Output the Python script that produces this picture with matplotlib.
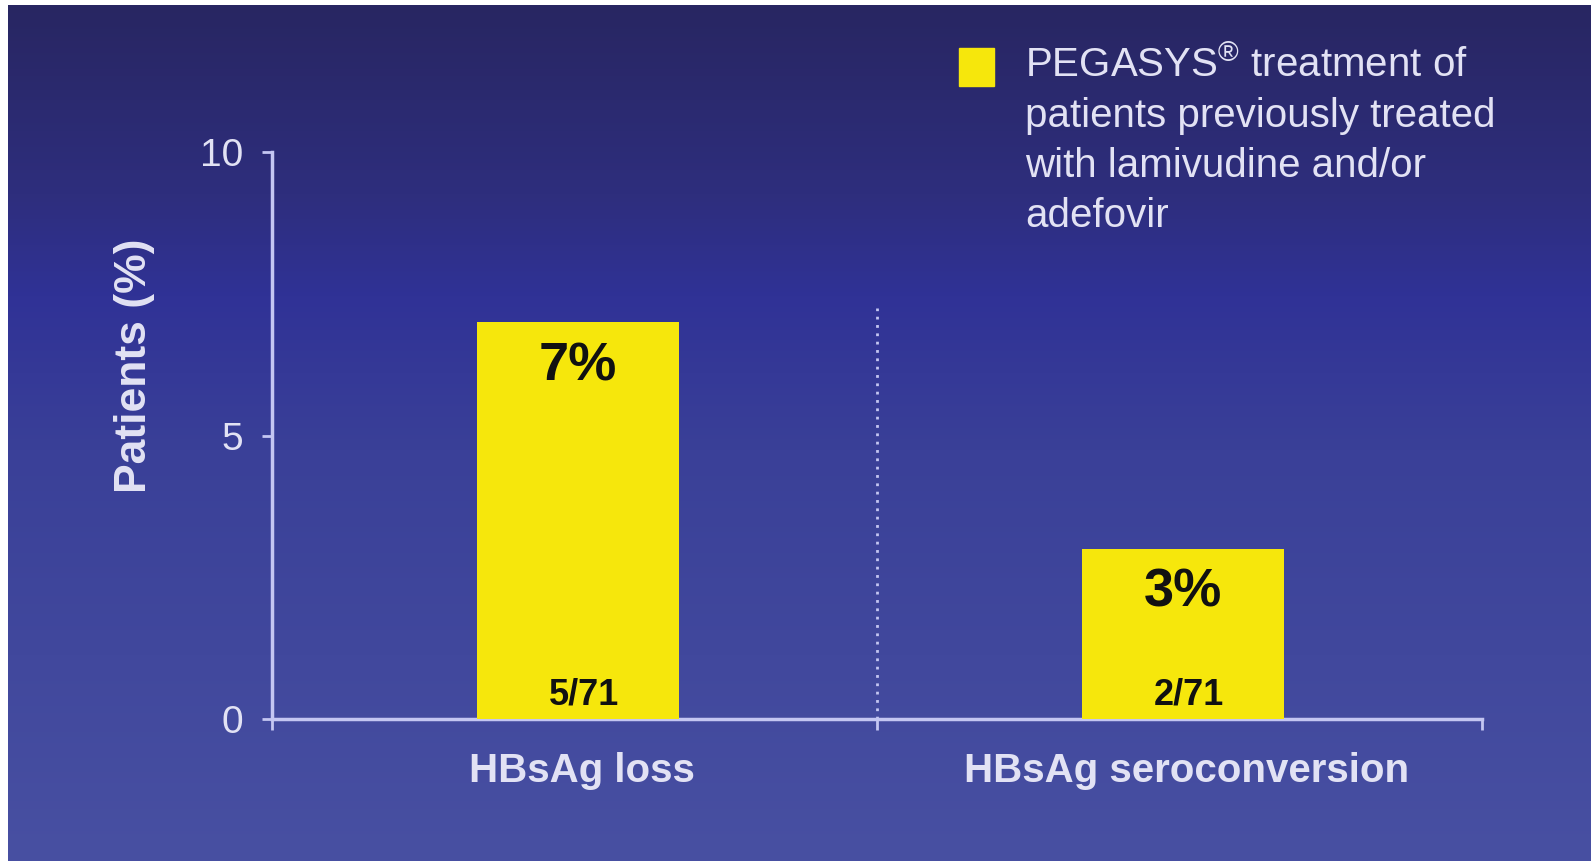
import numpy as np
import matplotlib
matplotlib.use("Agg")
import matplotlib.pyplot as plt
from matplotlib.patches import Rectangle

plt.rcParams['font.family'] = ['Liberation Sans', 'DejaVu Sans']
plt.rcParams['mathtext.fontset'] = 'custom'
plt.rcParams['mathtext.rm'] = 'Liberation Sans'
plt.rcParams['mathtext.default'] = 'regular'

categories = ["HBsAg loss", "HBsAg seroconversion"]
responders = [5, 2]
n_patients = [71, 71]
pct_labels = ["7%", "3%"]
pct_values = [7, 3]
yticks = [0, 5, 10]
legend_label = ("PEGASYS$^{\u00ae}$ treatment of\npatients previously treated\n"
                "with lamivudine and/or\nadefovir")

W, H = 1594, 864
fig = plt.figure(figsize=(W / 100, H / 100), dpi=100)
fig.patch.set_facecolor("white")

# background gradient, dark navy at top to lighter blue at bottom
bg = fig.add_axes([8 / W, 3 / H, 1 - 12 / W, 1 - 8 / H])
stops_y = [0.0, 0.22, 0.34, 0.52, 1.0]
stops_c = np.array([[40, 38, 98], [46, 46, 125], [48, 50, 150],
                    [58, 64, 152], [72, 80, 162]]) / 255.0
yy = np.linspace(0, 1, 400)
grad = np.stack([np.interp(yy, stops_y, stops_c[:, k]) for k in range(3)], axis=-1)
bg.imshow(grad[:, None, :], aspect="auto", extent=[0, 1, 1, 0])
bg.set_axis_off()

line_c = "#c4c6f2"
text_c = "#e2e2f4"
yellow = "#f6e70c"

ax = fig.add_axes([272 / W, 145 / H, 1210 / W, 567 / H])
ax.set_facecolor("none")
x = np.array([0.5, 1.5])
ax.bar(x + 0.006, pct_values, width=0.335, color=yellow, zorder=3)
ax.set_xlim(0, 2)
ax.set_ylim(0, 10)

for xi, v, lab, r, n in zip(x, pct_values, pct_labels, responders, n_patients):
    ax.text(xi + 0.006, v - 0.68, lab, ha="center", va="center_baseline", fontsize=39,
            fontweight="bold", color="#111111", zorder=4)
    ax.text(xi + 0.015, 0.5, f"{r}/{n}", ha="center", va="center_baseline",
            fontsize=26, fontweight="bold", color="#111111", zorder=4)

# dotted divider between the two groups
ax.plot([1, 1], [0, 7.25], linestyle=(0, (1, 2)), color=line_c, lw=2, zorder=2)

for s in ["top", "right"]:
    ax.spines[s].set_visible(False)
for s in ["left", "bottom"]:
    ax.spines[s].set_color(line_c)
    ax.spines[s].set_linewidth(2.5)

ax.set_yticks(yticks)
ax.set_yticklabels([str(t) for t in yticks])
ax.tick_params(axis="y", colors=line_c, labelcolor=text_c, labelsize=28,
               length=7, width=2, pad=14)
ax.set_xticks([0, 1, 2])
ax.set_xticklabels([])
ax.tick_params(axis="x", which="major", colors=line_c, length=8, width=2)
ax.set_xticks(x + 0.012, minor=True)
ax.set_xticklabels(categories, minor=True)
ax.tick_params(axis="x", which="minor", length=0, pad=24, labelsize=29,
               labelcolor=text_c)
for t in ax.get_xticklabels(minor=True):
    t.set_fontweight("bold")

ax.set_ylabel("Patients (%)", fontsize=32, fontweight="bold", color=text_c)
ax.yaxis.set_label_coords(-0.097, 0.623)

# legend: yellow square and wrapped label
fig.patches.append(Rectangle((959 / W, 1 - 86 / H), 35 / W, 38 / H,
                             transform=fig.transFigure, color=yellow))
fig.text(1025 / W, 1 - 45 / H, legend_label, ha="left", va="top",
         fontsize=29, color=text_c, linespacing=1.40)

fig.savefig("out.png", dpi=100)
